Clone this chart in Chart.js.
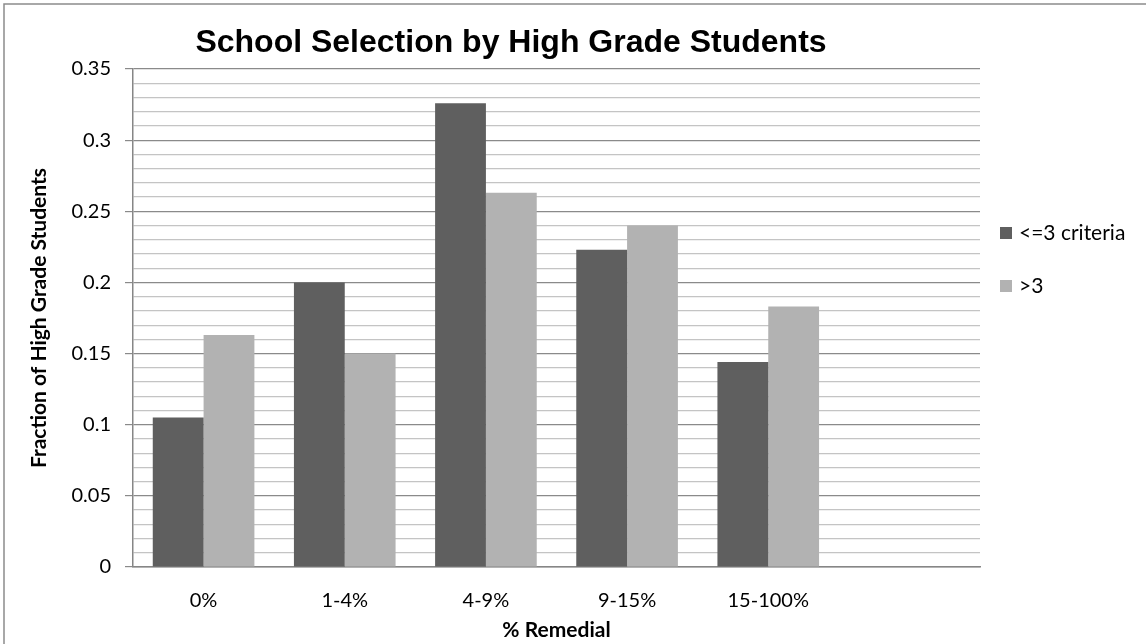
<!DOCTYPE html>
<html>
<head>
<meta charset="utf-8">
<script src="https://cdn.jsdelivr.net/npm/chart.js@4.4.1/dist/chart.umd.min.js"></script>
<style>
  html, body { margin: 0; padding: 0; background: #fff; }
  #wrap { width: 1146px; height: 644px; position: relative; }
</style>
</head>
<body>
<div id="wrap"><canvas id="c" width="1146" height="644"></canvas></div>
<script>
const categories = ['0%', '1-4%', '4-9%', '9-15%', '15-100%', ''];
const seriesNames = ['<=3 criteria', '>3'];
const lowCriteria = [0.105, 0.200, 0.326, 0.223, 0.144, null];
const highCriteria = [0.163, 0.150, 0.263, 0.240, 0.183, null];
const yMin = 0, yMax = 0.35, yMinorStep = 0.01, yMajorStep = 0.05;
const chartTitle = 'School Selection by High Grade Students';
const yTitle = 'Fraction of High Grade Students';
const xTitle = '% Remedial';

const TICK_FONT = 'Lato, "Open Sans", sans-serif';
const isMajor = v => Math.abs(Math.round(v * 100) % Math.round(yMajorStep * 100)) === 0;

const decor = {
  id: 'decor',
  afterDraw(chart) {
    const ctx = chart.ctx;
    const a = chart.chartArea;
    ctx.save();
    // outer frame (top and left edges visible)
    ctx.strokeStyle = '#8c8c8c';
    ctx.lineWidth = 1.5;
    ctx.beginPath();
    ctx.moveTo(4, 644); ctx.lineTo(4, 4); ctx.lineTo(1146, 4);
    ctx.stroke();
    // chart title
    ctx.fillStyle = '#000';
    ctx.font = 'bold 32px "Liberation Sans", Arial, sans-serif';
    ctx.textAlign = 'center';
    ctx.textBaseline = 'middle';
    ctx.fillText(chartTitle, 511, 43);
    // x title (centred on the plot area)
    ctx.font = 'bold 21px ' + TICK_FONT;
    ctx.fillText(xTitle, (a.left + a.right) / 2, 630);
    // y title
    ctx.save();
    ctx.translate(39, (a.top + a.bottom) / 2);
    ctx.rotate(-Math.PI / 2);
    ctx.fillText(yTitle, 0, 0);
    ctx.restore();
    // legend
    ctx.font = '21px ' + TICK_FONT;
    ctx.textAlign = 'left';
    const ly = [233, 286];
    chart.data.datasets.forEach((ds, i) => {
      ctx.fillStyle = ds.backgroundColor;
      ctx.fillRect(1000, ly[i] - 6, 12, 12);
      ctx.fillStyle = '#000';
      ctx.fillText(ds.label, 1019, ly[i]);
    });
    ctx.restore();
  }
};

new Chart(document.getElementById('c'), {
  type: 'bar',
  data: {
    labels: categories,
    datasets: [
      { label: seriesNames[0], data: lowCriteria, backgroundColor: '#5f5f5f', borderWidth: 0 },
      { label: seriesNames[1], data: highCriteria, backgroundColor: '#b2b2b2', borderWidth: 0 }
    ]
  },
  options: {
    responsive: false,
    animation: false,
    devicePixelRatio: 1,
    layout: { padding: { left: 0, top: 69, right: 166, bottom: 0 } },
    categoryPercentage: 0.72,
    barPercentage: 1.0,
    plugins: { legend: { display: false }, title: { display: false }, tooltip: { enabled: false } },
    scales: {
      x: {
        grid: { display: false, drawTicks: false },
        border: { display: true, color: '#868686', width: 1.5 },
        ticks: { color: '#000', font: { family: TICK_FONT, size: 20 }, padding: 22, maxRotation: 0, autoSkip: false },
        afterFit: s => { s.height = 77; }
      },
      y: {
        min: yMin, max: yMax,
        grid: {
          color: c => isMajor(c.tick.value) ? '#8a8a8a' : '#c4c4c4',
          lineWidth: 1.2,
          tickLength: 8,
          tickColor: c => isMajor(c.tick.value) ? '#8a8a8a' : 'rgba(0,0,0,0)'
        },
        border: { display: true, color: '#868686', width: 1.5 },
        ticks: {
          stepSize: yMinorStep,
          autoSkip: false,
          color: '#000',
          padding: 14,
          font: { family: TICK_FONT, size: 20 },
          callback: v => isMajor(v) ? String(Math.round(v * 100) / 100) : ''
        },
        afterFit: s => { s.width = 133; }
      }
    }
  },
  plugins: [decor]
});
</script>
</body>
</html>
